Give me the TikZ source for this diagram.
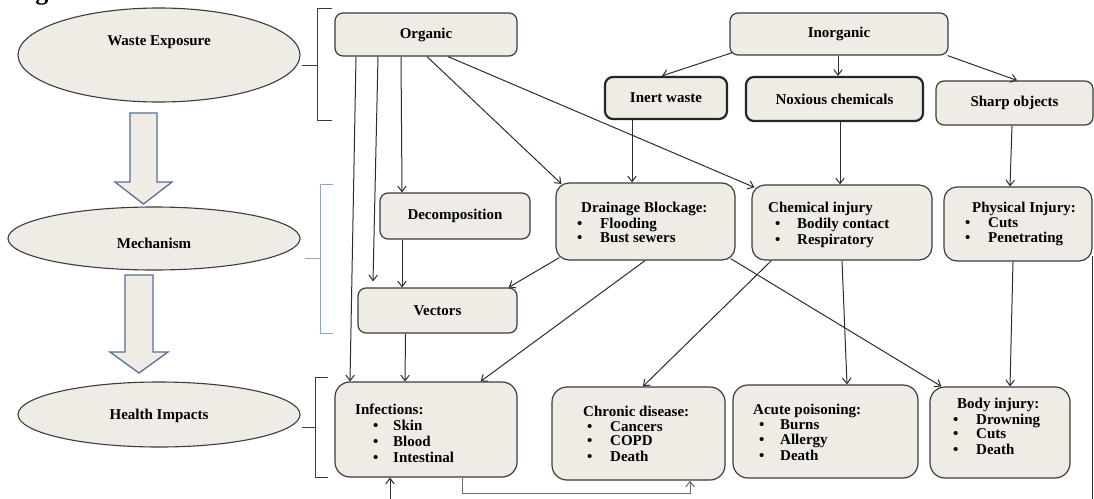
\documentclass[tikz,border=0pt]{standalone}
\usepackage{fontspec}
\setmainfont{Liberation Serif}
\usetikzlibrary{arrows.meta,shapes.geometric}
\definecolor{boxfill}{RGB}{238,236,228}
\definecolor{edge}{RGB}{60,60,60}
\definecolor{wire}{RGB}{45,45,45}
\definecolor{stageblue}{RGB}{88,112,150}
\definecolor{bracketblue}{RGB}{140,165,200}
% bullet line: indent, bullet box width, item text
\newcommand{\bitem}[3]{\strut\hspace*{#1pt}\makebox[#2pt][l]{•}#3}

\begin{document}
\begin{tikzpicture}[x=1pt,y=-1pt,
  txt/.style={font=\fontsize{15}{14.5}\selectfont\bfseries},
  stage/.style={ellipse, draw=edge, line width=1.1pt, fill=boxfill, inner sep=0pt},
  box/.style={rectangle, rounded corners=8pt, draw=edge, line width=1.2pt, fill=boxfill, inner sep=0pt, txt},
  thickbox/.style={box, line width=2.2pt, draw=black!85},
  listbox/.style={box, rounded corners=13pt},
  list/.style={txt, align=left, anchor=north west, inner sep=0pt},
  conn/.style={draw=wire, line width=1pt, -{Straight Barb[length=5.5pt,width=8.5pt]}},
  bracket/.style={draw=edge, line width=1pt},
  bigarrow/.style={draw=stageblue, line width=1.3pt, fill=boxfill, line join=miter},
]
\clip (0,0) rectangle (1094,498);
\fill[white] (0,0) rectangle (1094,498);

% caption remnant at the top edge
\node[anchor=base west, inner sep=0pt, font=\fontsize{26}{26}\selectfont\bfseries] (figtag) at (12,-0.7) {Fig};

% ---- stages on the left ----
\node[stage, minimum width=282pt, minimum height=94pt] (expo) at (159,55) {};
\node[txt] (expolbl) at (159,42) {Waste Exposure};
\node[stage, minimum width=292pt, minimum height=63pt] (mech) at (154,238.5) {};
\node[txt] (mechlbl) at (154,243) {Mechanism};
\node[stage, minimum width=282pt, minimum height=65pt] (hlth) at (159,414.5) {};
\node[txt] (hlthlbl) at (159,416) {Health Impacts};

% hollow block arrows between stages
\draw[bigarrow] (130,113) -- (157,113) -- (157,182) -- (172,182) -- (143.5,204) -- (115,182) -- (130,182) -- cycle;
\draw[bigarrow] (125,275) -- (153,275) -- (153,352) -- (168,352) -- (139,373) -- (110,352) -- (125,352) -- cycle;

% brackets grouping each row
\draw[bracket] (302,65) -- (317,65);
\draw[bracket] (332,8) -- (317,8) -- (317,120) -- (332,120);
\draw[bracket, draw=bracketblue] (305,258) -- (320,258);
\draw[bracket, draw=bracketblue] (333,184) -- (320,184) -- (320,333) -- (333,333);
\draw[bracket] (302,427) -- (315,427);
\draw[bracket] (328,377) -- (315,377) -- (315,477) -- (328,477);

% ---- exposure row ----
\node[box, minimum width=182pt, minimum height=43pt] (org) at (426,34.5) {Organic};
\node[box, minimum width=218pt, minimum height=42pt] (inorg) at (839,34) {Inorganic};
\node[thickbox, minimum width=122pt, minimum height=42pt] (inert) at (666,98) {Inert waste};
\node[thickbox, minimum width=177pt, minimum height=44pt] (nox) at (834.5,99) {Noxious chemicals};
\node[box, minimum width=157pt, minimum height=44pt] (sharp) at (1014.5,103) {Sharp objects};

% ---- mechanism row ----
\node[box, minimum width=150pt, minimum height=46pt] (decomp) at (455,216) {Decomposition};
\node[listbox, minimum width=179pt, minimum height=77pt] (drain) at (645.5,221.5) {};
\node[list] (draintxt) at (577,202) {\strut\hspace*{4pt}Drainage Blockage:\\ \bitem{0}{23}{Flooding}\\ \bitem{0}{23}{Bust sewers}};
\node[box, minimum width=159pt, minimum height=45pt] (vect) at (437.5,310.5) {Vectors};
\node[listbox, minimum width=180pt, minimum height=75pt] (chem) at (842,222.5) {};
\node[list] (chemtxt) at (768,202) {\strut Chemical injury\\ \bitem{7}{22}{Bodily contact}\\ \bitem{7}{22}{Respiratory}};
\node[listbox, minimum width=148pt, minimum height=74pt] (phys) at (1018,224) {};
\node[list] (phystxt) at (965,202) {\strut\hspace*{7pt}Physical Injury:\\ \bitem{0}{23}{Cuts}\\ \bitem{0}{23}{Penetrating}};

% ---- health impact row ----
\node[listbox, rounded corners=15pt, minimum width=182pt, minimum height=95pt] (inf) at (426,429.5) {};
\node[list] (inftxt) at (355,404) {\strut Infections:\\ \bitem{18}{20}{Skin}\\ \bitem{18}{20}{Blood}\\ \bitem{18}{20}{Intestinal}};
\node[listbox, rounded corners=15pt, minimum width=173pt, minimum height=93pt] (chron) at (638.5,433.5) {};
\node[list] (chrontxt) at (583,406) {\strut Chronic disease:\\ \bitem{4}{23}{Cancers}\\ \bitem{4}{23}{COPD}\\ \bitem{4}{23}{Death}};
\node[listbox, rounded corners=15pt, minimum width=185pt, minimum height=93pt] (acute) at (825.5,431.5) {};
\node[list] (acutetxt) at (753,404) {\strut Acute poisoning:\\ \bitem{6}{21}{Burns}\\ \bitem{6}{21}{Allergy}\\ \bitem{6}{21}{Death}};
\node[listbox, rounded corners=15pt, minimum width=140pt, minimum height=91pt] (body) at (1000,432.5) {};
\node[list] (bodytxt) at (953,398) {\strut\hspace*{4pt}Body injury:\\ \bitem{0}{23}{Drowning}\\ \bitem{0}{23}{Cuts}\\ \bitem{0}{23}{Death}};

% ---- connectors ----
\draw[conn] ([xshift=-70]org.south) -- ([xshift=-76]inf.north);
\draw[conn] ([xshift=-48]org.south) -- ([xshift=-64.5,yshift=6]vect.north);
\draw[conn] ([xshift=-25]org.south) -- ([xshift=-53]decomp.north);
\draw[conn] ([xshift=1]org.south) -- ([xshift=6,yshift=-1.5]drain.north west);
\draw[conn] ([xshift=22]org.south) -- ([xshift=3,yshift=-3]chem.north west);

\draw[conn] ([xshift=3,yshift=3]inorg.south west) -- ([xshift=-4]inert.north);
\draw[conn] ([xshift=-1]inorg.south) -- ([xshift=3.5]nox.north);
\draw[conn] ([xshift=-1]inorg.south east) -- ([xshift=2.5]sharp.north);

\draw[conn] ([xshift=-34]inert.south) -- ([xshift=-13.5]drain.north);
\draw[conn] ([xshift=5.5]nox.south) -- ([xshift=-2]chem.north);
\draw[conn] ([xshift=-2.5]sharp.south) -- ([xshift=-8]phys.north);

\draw[conn] ([xshift=-53]decomp.south) -- ([xshift=-35.5]vect.north);
\draw[conn] ([xshift=4,yshift=3]drain.south west) -- ([xshift=-9]vect.north east);
\draw[conn] ([xshift=-0.5]drain.south) -- ([xshift=-37]inf.north east);
\draw[conn] ([xshift=-5,yshift=2]drain.south east) -- ([xshift=12]body.north west);
\draw[conn] ([xshift=20]chem.south west) -- ([xshift=4.5]chron.north);
\draw[conn] (chem.south) -- ([xshift=21.5]acute.north);
\draw[conn] ([xshift=-5]phys.south) -- ([xshift=10]body.north);
\draw[conn] ([xshift=-32]vect.south) -- ([xshift=-21]inf.north);

% return lines along the bottom edge
\draw[conn, draw=wire!70] ([xshift=36]inf.south) -- ++(0,16) -| ([xshift=51.5]chron.south);
\draw[conn] ([yshift=6]phys.south east) -- ++(0,250) -| ([xshift=-36]inf.south);
\end{tikzpicture}
\end{document}
